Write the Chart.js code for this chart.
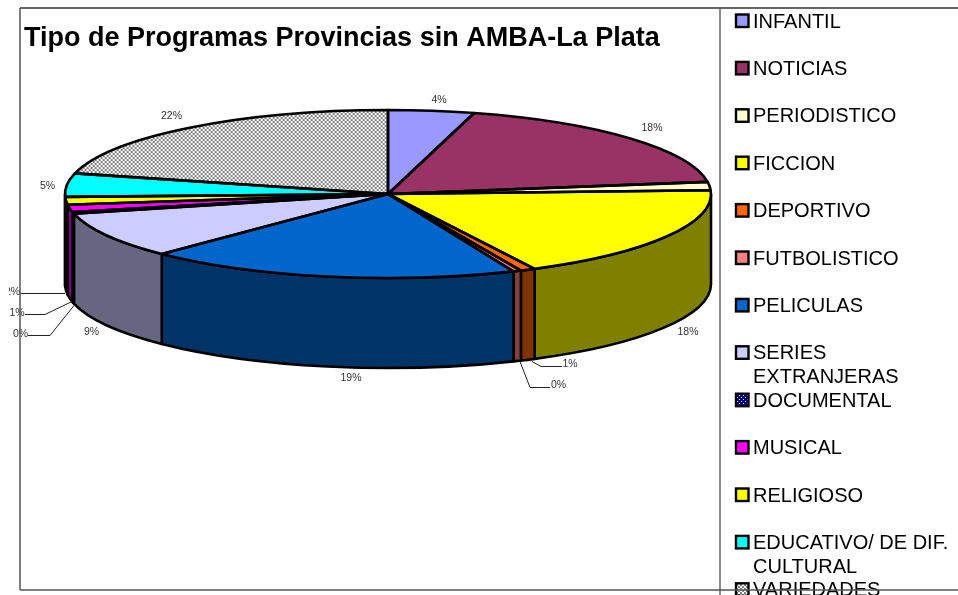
<!DOCTYPE html>
<html>
<head>
<meta charset="utf-8">
<style>html,body{margin:0;padding:0;background:#fff;overflow:hidden}canvas{display:block}</style>
<script src="https://cdn.jsdelivr.net/npm/chart.js@4"></script>
</head>
<body>
<canvas id="c" width="958" height="595"></canvas>
<script>
const chartTitle = 'Tipo de Programas Provincias sin AMBA-La Plata';
const legendLines = [['INFANTIL'],['NOTICIAS'],['PERIODISTICO'],['FICCION'],['DEPORTIVO'],['FUTBOLISTICO'],['PELICULAS'],['SERIES','EXTRANJERAS'],['DOCUMENTAL'],['MUSICAL'],['RELIGIOSO'],['EDUCATIVO/ DE DIF.','CULTURAL'],['VARIEDADES']];
const categories = legendLines.map(l => l.join(' '));
const seriesValues = [4.3,18.4,1.6,18.2,0.75,0.4,18.7,8.9,0.3,1.4,1.5,4.5,21.05];
const percentLabels = ['4%','18%','','18%','1%','0%','19%','9%','0%','1%','2%','5%','22%'];
const topColors = ['#9999FF','#993366','#FFFFCC','#FFFF00','#FF6600','#FF8080','#0066CC','#CCCCFF','#000080','#FF00FF','#FFFF00','#00FFFF','#808080'];
const wallColors = ['#4D4D80','#4D1A33','#808066','#808000','#803300','#804040','#003366','#666680','#000040','#800080','#808000','#008080','#404040'];

// layout (screen px)
const PIE = {cx:388, cy:194, rx:323, ry:84, depth:90, stroke:2.6};
const LEGEND = {boxX:736, textX:753, firstY:21, step:47.4, lineStep:24, box:12.5};
const LABEL_SPOTS = [[439,100],[652,128],null,[688,332],[570,364],[558.5,385],[351,378],[91.5,332],[20.5,334],[17,313],[12.5,292],[47.5,186],[171.5,116]];
const LEADERS = [
  [[532,361],[541,366],[562,366]],
  [[520,361],[530,387],[550,387]],
  [[65,293],[20,293]],
  [[72,301],[45,314],[25,314]],
  [[74,305],[50,335],[28,335]]
];

function tile(size, paint){
  const t = document.createElement('canvas'); t.width = t.height = size;
  paint(t.getContext('2d')); return t;
}
const ctx0 = document.getElementById('c').getContext('2d');
const checker = ctx0.createPattern(tile(4, g => {
  g.fillStyle='#fff'; g.fillRect(0,0,4,4);
  g.fillStyle='#808080'; g.fillRect(0,0,2,2); g.fillRect(2,2,2,2);
}),'repeat');
const navyDots = ctx0.createPattern(tile(4, g => {
  g.fillStyle='#000080'; g.fillRect(0,0,4,4);
  g.fillStyle='#fff'; g.fillRect(1,1,1,1); g.fillRect(3,3,1,1);
}),'repeat');
const fills = topColors.slice(); fills[8] = navyDots; fills[12] = checker;

const pie3d = {
  id:'pie3d',
  beforeDatasetsDraw(chart){
    const ctx = chart.ctx, arcs = chart.getDatasetMeta(0).data, r = arcs[0].outerRadius;
    const sx = PIE.rx/r, sy = PIE.ry/r, ax = arcs[0].x, ay = arcs[0].y;
    // side walls, derived from the arc elements' angles
    ctx.save();
    ctx.lineWidth = PIE.stroke; ctx.strokeStyle = '#000'; ctx.lineJoin='round';
    arcs.forEach((a,i) => {
      const s = Math.max(a.startAngle,0), e = Math.min(a.endAngle,Math.PI);
      if (e <= s) return;
      ctx.beginPath();
      ctx.ellipse(PIE.cx,PIE.cy,PIE.rx,PIE.ry,0,s,e);
      ctx.ellipse(PIE.cx,PIE.cy+PIE.depth,PIE.rx,PIE.ry,0,e,s,true);
      ctx.closePath();
      ctx.fillStyle = wallColors[i]; ctx.fill(); ctx.stroke();
    });
    ctx.restore();
    // flatten the top face
    [checker,navyDots].forEach(p => p.setTransform(new DOMMatrix().scale(1/sx,1/sy)));
    ctx.save();
    ctx.translate(PIE.cx,PIE.cy); ctx.scale(sx,sy); ctx.translate(-ax,-ay);
  },
  afterDatasetsDraw(chart){
    const ctx = chart.ctx, arcs = chart.getDatasetMeta(0).data;
    arcs.forEach(a => {
      ctx.beginPath();
      ctx.moveTo(a.x,a.y);
      ctx.arc(a.x,a.y,a.outerRadius,a.startAngle,a.endAngle);
      ctx.closePath();
      ctx.save();
      ctx.setTransform(1,0,0,1,0,0);
      ctx.lineWidth = PIE.stroke; ctx.strokeStyle='#000'; ctx.lineJoin='round';
      ctx.stroke();
      ctx.restore();
    });
    ctx.restore();
  },
  afterDraw(chart){
    const ctx = chart.ctx;
    ctx.save();
    // leader lines
    ctx.strokeStyle='#222'; ctx.lineWidth=1;
    LEADERS.forEach(pts => {
      ctx.beginPath();
      pts.forEach((p,i) => i ? ctx.lineTo(p[0],p[1]+.5) : ctx.moveTo(p[0],p[1]+.5));
      ctx.stroke();
    });
    // percent labels
    ctx.fillStyle='#333'; ctx.font='10.5px "Liberation Sans"';
    ctx.textAlign='center'; ctx.textBaseline='middle';
    percentLabels.forEach((t,i) => {
      if (!t) return;
      ctx.save();
      if (t==='2%' && i===10){ ctx.beginPath(); ctx.rect(9,270,40,40); ctx.clip(); }
      ctx.fillText(t,LABEL_SPOTS[i][0],LABEL_SPOTS[i][1]);
      ctx.restore();
    });
    // legend
    legendLines.forEach((lines,i) => {
      const y = LEGEND.firstY + i*LEGEND.step;
      ctx.fillStyle = fills[i];
      if (typeof fills[i] !== 'string') fills[i].setTransform(new DOMMatrix());
      ctx.fillRect(LEGEND.boxX,y-6.5,LEGEND.box,LEGEND.box);
      ctx.strokeStyle='#000'; ctx.lineWidth=2.4;
      ctx.strokeRect(LEGEND.boxX,y-6.5,LEGEND.box,LEGEND.box);
      ctx.fillStyle='#000'; ctx.font='20px "Liberation Sans"';
      ctx.textAlign='left'; ctx.textBaseline='middle';
      lines.forEach((l,k) => ctx.fillText(l,LEGEND.textX,y+k*LEGEND.lineStep+1));
    });
    // frame
    const seg = (c,x0,y0,x1,y1) => {ctx.strokeStyle=c;ctx.lineWidth=1.5;ctx.beginPath();ctx.moveTo(x0,y0);ctx.lineTo(x1,y1);ctx.stroke();};
    seg('#333',20,8,958,8);
    seg('#555',20,8,20,590);
    seg('#666',720,8,720,595);
    seg('#555',20,590,958,590);
    ctx.restore();
  }
};

new Chart(document.getElementById('c'), {
  type:'pie',
  data:{labels:categories, datasets:[{data:seriesValues, backgroundColor:fills, borderWidth:0, hoverOffset:0}]},
  options:{
    responsive:false, animation:false, rotation:0,
    layout:{padding:{left:24,top:8}},
    plugins:{
      legend:{display:false}, tooltip:{enabled:false},
      title:{display:true,text:chartTitle,align:'start',color:'#000',
        font:{family:'"Liberation Sans"',size:27,weight:'bold'},padding:{top:14,bottom:6}}
    }
  },
  plugins:[pie3d]
});
</script>
</body>
</html>
